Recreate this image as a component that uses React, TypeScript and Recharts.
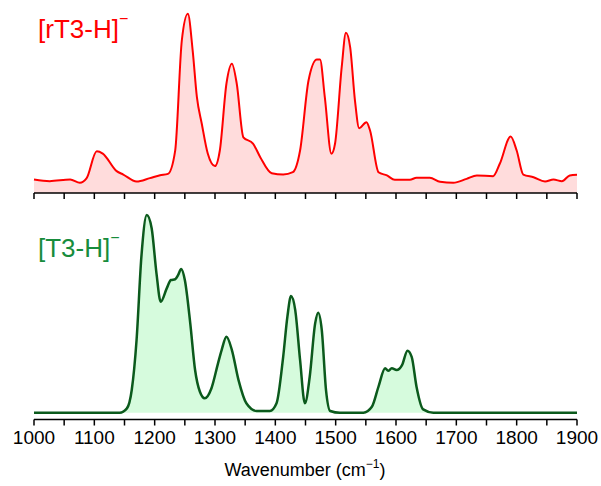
import React from 'react';
import { AreaChart, Area, XAxis, YAxis } from 'recharts';

// rT3 spectrum (top), normalised intensity
const rt3Wavenumber = [
  1000, 1026, 1060, 1076, 1087, 1104, 1114, 1137, 1148, 1170, 1192, 1209, 1222, 1234, 1245,
  1255, 1263, 1270, 1278, 1288, 1300, 1308, 1319, 1328, 1336, 1347, 1363, 1375, 1394, 1413,
  1429, 1441, 1455, 1469, 1474, 1482, 1493, 1499, 1510, 1517, 1524, 1532, 1539, 1551, 1557,
  1571, 1585, 1598, 1623, 1634, 1656, 1673, 1695, 1717, 1734, 1761, 1772, 1790, 1800, 1811,
  1828, 1847, 1861, 1875, 1888, 1900,
];
const rt3Intensity = [
  0.075, 0.066, 0.075, 0.057, 0.081, 0.233, 0.22, 0.122, 0.103, 0.064, 0.083, 0.099, 0.107, 0.237, 0.851,
  1.0, 0.795, 0.535, 0.388, 0.22, 0.15, 0.237, 0.611, 0.721, 0.611, 0.311, 0.276, 0.2, 0.11, 0.103,
  0.116, 0.237, 0.628, 0.745, 0.745, 0.535, 0.219, 0.276, 0.702, 0.894, 0.814, 0.516, 0.362, 0.395, 0.349,
  0.116, 0.098, 0.074, 0.074, 0.085, 0.085, 0.063, 0.057, 0.079, 0.098, 0.094, 0.163, 0.315, 0.237, 0.103,
  0.088, 0.064, 0.075, 0.066, 0.098, 0.102,
];

// T3 spectrum (bottom), normalised intensity
const t3Wavenumber = [
  1000, 1142, 1154, 1162, 1170, 1178, 1187, 1195, 1203, 1210, 1220, 1227, 1234, 1239, 1244,
  1250, 1259, 1267, 1275, 1283, 1294, 1305, 1311, 1319, 1328, 1339, 1352, 1369, 1391, 1402,
  1413, 1420, 1426, 1433, 1441, 1449, 1457, 1466, 1471, 1477, 1484, 1491, 1507, 1546, 1560,
  1571, 1582, 1587, 1593, 1601, 1610, 1619, 1626, 1634, 1645, 1662, 1900,
];
const t3Intensity = [
  0, 0, 0.022, 0.115, 0.368, 0.789, 1.0, 0.933, 0.705, 0.561, 0.629, 0.671, 0.675, 0.697, 0.727,
  0.671, 0.452, 0.216, 0.106, 0.073, 0.123, 0.25, 0.317, 0.384, 0.317, 0.165, 0.048, 0.009, 0.009, 0.048,
  0.283, 0.486, 0.59, 0.519, 0.267, 0.048, 0.182, 0.452, 0.506, 0.418, 0.115, 0.009, 0, 0, 0.03,
  0.132, 0.225, 0.212, 0.225, 0.216, 0.241, 0.314, 0.283, 0.132, 0.017, 0, 0,
];

const xTicks = [
  1000, 1050, 1100, 1150, 1200, 1250, 1300, 1350, 1400, 1450,
  1500, 1550, 1600, 1650, 1700, 1750, 1800, 1850, 1900,
];

const rt3Data = rt3Wavenumber.map((x, i) => ({ x, y: rt3Intensity[i] }));
const t3Data = t3Wavenumber.map((x, i) => ({ x, y: t3Intensity[i] }));

const FONT = '"Liberation Sans", Arial, sans-serif';

const App: React.FC = () => {
  return (
    <div style={{ position: 'absolute', left: 0, top: 0, width: 601, height: 486, background: '#fff', fontFamily: FONT }}>
      <div style={{ position: 'absolute', left: 0, top: 0 }}>
        <AreaChart width={601} height={205} data={rt3Data} margin={{ top: 10.5, right: 24, left: 34, bottom: 0 }}>
          <XAxis
            dataKey="x"
            type="number"
            domain={[1000, 1900]}
            ticks={xTicks}
            interval={0}
            height={12}
            tickSize={6}
            tickFormatter={() => ''}
            axisLine={{ stroke: '#000', strokeWidth: 1.5 }}
            tickLine={{ stroke: '#000', strokeWidth: 1.5 }}
          />
          <YAxis hide domain={[0, 1.0184]} />
          <Area
            type="monotone"
            dataKey="y"
            stroke="#ff0000"
            strokeWidth={2}
            fill="#ffdcdc"
            fillOpacity={1}
            baseValue={0}
            isAnimationActive={false}
            dot={false}
            activeDot={false}
          />
        </AreaChart>
      </div>
      <div style={{ position: 'absolute', left: 0, top: 205 }}>
        <AreaChart width={601} height={281} data={t3Data} margin={{ top: 5, right: 24, left: 34, bottom: 0 }}>
          <XAxis
            dataKey="x"
            type="number"
            domain={[1000, 1900]}
            ticks={xTicks}
            interval={0}
            height={66.5}
            tickSize={6}
            tickMargin={5}
            tickFormatter={(v: number) => (v % 100 === 0 ? String(v) : '')}
            tick={{ fill: '#000', fontSize: 19, fontFamily: FONT }}
            axisLine={{ stroke: '#000', strokeWidth: 1.5 }}
            tickLine={{ stroke: '#000', strokeWidth: 1.5 }}
          />
          <YAxis hide domain={[-0.034, 1.025]} />
          <Area
            type="monotone"
            dataKey="y"
            stroke="#0b5a1c"
            strokeWidth={2.5}
            fill="#d6fbdd"
            fillOpacity={1}
            baseValue={0}
            isAnimationActive={false}
            dot={false}
            activeDot={false}
          />
        </AreaChart>
      </div>
      <svg width={601} height={486} style={{ position: 'absolute', left: 0, top: 0, pointerEvents: 'none' }}>
        <text x={38} y={38} fill="#ff0000" fontSize={26} fontFamily={FONT}>
          [rT3-H]<tspan fontSize={16} dy={-14}>−</tspan>
        </text>
        <text x={38} y={257} fill="#178c3c" fontSize={26} fontFamily={FONT}>
          [T3-H]<tspan fontSize={16} dy={-14}>−</tspan>
        </text>
        <text x={305} y={476} fill="#000" fontSize={18} fontFamily={FONT} textAnchor="middle">
          Wavenumber (cm<tspan fontSize={12} dy={-8}>−1</tspan><tspan dy={8}>)</tspan>
        </text>
      </svg>
    </div>
  );
};

export default App;
